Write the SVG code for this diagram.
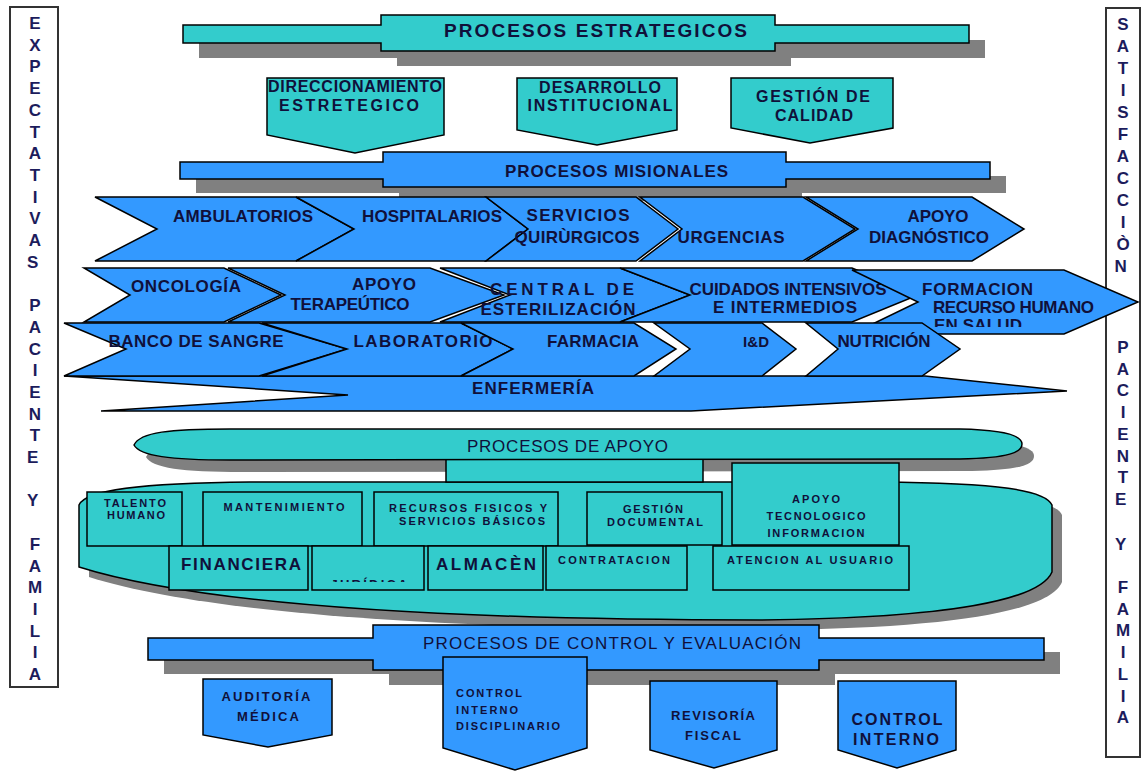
<svg xmlns="http://www.w3.org/2000/svg" width="1144" height="771" viewBox="0 0 1144 771">
<style>
.cy{fill:#33CCCC;stroke:#000;stroke-width:1.5;stroke-linejoin:miter}
.bl{fill:#3399FF;stroke:#000;stroke-width:1.5;stroke-linejoin:miter}
.sh{fill:#808080}
.frame{fill:#fff;stroke:#333;stroke-width:2}
.t{font-family:"Liberation Sans",Arial,sans-serif;font-weight:bold;fill:#10103a}
.n{font-weight:normal}
.m{text-anchor:middle}
.r{font-size:17px}
.s{font-size:11px}
.side{font-family:"Liberation Sans",Arial,sans-serif;font-weight:bold;font-size:17px;fill:#1c1c5c;text-anchor:middle}
</style>
<defs>
<clipPath id="clipSalud"><rect x="900" y="300" width="200" height="27"/></clipPath>
<clipPath id="clipJur"><rect x="312" y="546" width="112" height="36"/></clipPath>
</defs>
<rect width="1144" height="771" fill="#fff"/>

<!-- side frames -->
<g id="expectativas">
<rect class="frame" x="10" y="7" width="48" height="680"/>
<text class="side">
<tspan x="35" y="29">E</tspan><tspan x="35" y="50.7">X</tspan><tspan x="35" y="72.4">P</tspan><tspan x="35" y="94.1">E</tspan><tspan x="35" y="115.8">C</tspan><tspan x="35" y="137.5">T</tspan><tspan x="35" y="159.2">A</tspan><tspan x="35" y="180.9">T</tspan><tspan x="35" y="202.6">I</tspan><tspan x="35" y="224.3">V</tspan><tspan x="35" y="246">A</tspan><tspan x="35" y="267.7">S</tspan>
<tspan x="35" y="311.1">P</tspan><tspan x="35" y="332.8">A</tspan><tspan x="35" y="354.5">C</tspan><tspan x="35" y="376.2">I</tspan><tspan x="35" y="397.9">E</tspan><tspan x="35" y="419.6">N</tspan><tspan x="35" y="441.3">T</tspan><tspan x="35" y="463">E</tspan>
<tspan x="35" y="506.4">Y</tspan>
<tspan x="35" y="549.8">F</tspan><tspan x="35" y="571.5">A</tspan><tspan x="35" y="593.2">M</tspan><tspan x="35" y="614.9">I</tspan><tspan x="35" y="636.6">L</tspan><tspan x="35" y="658.3">I</tspan><tspan x="35" y="680">A</tspan>
</text>
</g>
<g id="satisfaccion">
<rect class="frame" x="1106" y="8" width="34" height="749"/>
<text class="side">
<tspan x="1123" y="30">S</tspan><tspan x="1123" y="52">A</tspan><tspan x="1123" y="74">T</tspan><tspan x="1123" y="96">I</tspan><tspan x="1123" y="118">S</tspan><tspan x="1123" y="140">F</tspan><tspan x="1123" y="162">A</tspan><tspan x="1123" y="184">C</tspan><tspan x="1123" y="206">C</tspan><tspan x="1123" y="228">I</tspan><tspan x="1123" y="250">Ò</tspan><tspan x="1123" y="272">N</tspan>
<tspan x="1123" y="353">P</tspan><tspan x="1123" y="374.7">A</tspan><tspan x="1123" y="396.4">C</tspan><tspan x="1123" y="418.1">I</tspan><tspan x="1123" y="439.8">E</tspan><tspan x="1123" y="461.5">N</tspan><tspan x="1123" y="483.2">T</tspan><tspan x="1123" y="504.9">E</tspan>
<tspan x="1123" y="550">Y</tspan>
<tspan x="1123" y="593">F</tspan><tspan x="1123" y="614.7">A</tspan><tspan x="1123" y="636.4">M</tspan><tspan x="1123" y="658.1">I</tspan><tspan x="1123" y="679.8">L</tspan><tspan x="1123" y="701.5">I</tspan><tspan x="1123" y="723.2">A</tspan>
</text>
</g>

<!-- strategic processes -->
<g id="estrategicos">
<path class="sh" d="M199 40 H397 V30 H791 V40 H985 V58 H791 V66 H397 V58 H199 Z"/>
<path class="cy" d="M183 25 H381 V15 H775 V25 H969 V43 H775 V51 H381 V43 H183 Z"/>
<text class="t" x="444" y="37" font-size="19" textLength="303">PROCESOS ESTRATEGICOS</text>
</g>
<g id="direccionamiento">
<path class="cy" d="M267 78 H444 V135 L355 153 L267 135 Z"/>
<text class="t m" x="355" y="92" font-size="16" textLength="174">DIRECCIONAMIENTO</text>
<text class="t m" x="349" y="111" font-size="16" textLength="140">ESTRETEGICO</text>
</g>
<g id="desarrollo">
<path class="cy" d="M517 78 H677 V130 L597 145 L517 130 Z"/>
<text class="t m" x="600" y="93" font-size="16" textLength="122">DESARROLLO</text>
<text class="t m" x="600" y="111" font-size="16" textLength="145">INSTITUCIONAL</text>
</g>
<g id="calidad">
<path class="cy" d="M731 78 H893 V128 L810 143 L731 128 Z"/>
<text class="t m" x="813" y="102" font-size="16" textLength="114">GESTIÓN DE</text>
<text class="t m" x="814" y="121" font-size="16" textLength="78">CALIDAD</text>
</g>

<!-- mission processes -->
<g id="misionales">
<path class="sh" d="M196 176 H399 V166 H802 V176 H1006 V193 H802 V201 H399 V193 H196 Z"/>
<path class="bl" d="M180 162 H383 V152 H786 V162 H990 V179 H786 V187 H383 V179 H180 Z"/>
<text class="t" x="505" y="177" font-size="17" textLength="223">PROCESOS MISIONALES</text>
</g>

<g id="enfermeria">
<polygon class="bl" points="64,376 925,376 1067,391 691,411 101,411 348,395"/>
<text class="t m r" x="533" y="394" textLength="122">ENFERMERÍA</text>
</g>

<g id="ambulatorios">
<polygon class="bl" points="95,197 296,197 354,229 296,261 95,261 157,229"/>
<text class="t m r" x="243" y="222" textLength="140">AMBULATORIOS</text>
</g>
<g id="hospitalarios">
<polygon class="bl" points="296,197 486,197 528,229 486,261 296,261 354,229"/>
<text class="t m r" x="432" y="222" textLength="140">HOSPITALARIOS</text>
</g>
<g id="quirurgicos">
<polygon class="bl" points="486,197 636,197 678,229 636,261 486,261 528,229"/>
<text class="t m r" x="578" y="221" textLength="103">SERVICIOS</text>
<text class="t m r" x="577" y="243" textLength="125">QUIRÙRGICOS</text>
</g>
<g id="urgencias">
<polygon class="bl" points="640,197 803,197 855,229 803,261 640,261 682,229"/>
<text class="t m r" x="731" y="243" textLength="107">URGENCIAS</text>
</g>
<g id="diagnostico">
<polygon class="bl" points="806,197 972,197 1024,229 972,261 806,261 858,229"/>
<text class="t m r" x="938" y="222" textLength="61">APOYO</text>
<text class="t m r" x="929" y="243" textLength="120">DIAGNÓSTICO</text>
</g>

<g id="oncologia">
<polygon class="bl" points="84,268 224,268 281,295 224,322 84,322 130,295"/>
<text class="t m r" x="186" y="292" textLength="110">ONCOLOGÍA</text>
</g>
<g id="terapeutico">
<polygon class="bl" points="228,268 430,268 504,295 430,322 228,322 285,295"/>
<text class="t m r" x="384" y="290" textLength="64">APOYO</text>
<text class="t m r" x="350" y="310" textLength="119">TERAPEÚTICO</text>
</g>
<g id="esterilizacion">
<polygon class="bl" points="440,268 620,268 690,295 620,322 440,322 510,295"/>
<text class="t m r" x="562" y="295" textLength="144">CENTRAL DE</text>
<text class="t m r" x="558" y="315" textLength="155">ESTERILIZACIÓN</text>
</g>
<g id="cuidados">
<polygon class="bl" points="620,268 852,268 918,295 852,322 620,322 690,295"/>
<text class="t m r" x="788" y="295" textLength="197">CUIDADOS INTENSIVOS</text>
<text class="t m r" x="785" y="313" textLength="144">E INTERMEDIOS</text>
</g>
<g id="formacion">
<polygon class="bl" points="852,270 1064,270 1138,302 1064,334 852,334 918,302"/>
<text class="t r" x="922" y="295" textLength="111">FORMACION</text>
<text class="t r" x="933" y="313" textLength="161">RECURSO HUMANO</text>
<text class="t r" x="934" y="331" textLength="88" clip-path="url(#clipSalud)">EN SALUD</text>
</g>

<g id="banco">
<polygon class="bl" points="64,323 259,323 347,349 259,376 64,376 126,349"/>
<text class="t m r" x="196" y="347" textLength="175">BANCO DE SANGRE</text>
</g>
<g id="laboratorio">
<polygon class="bl" points="262,323 461,323 513,349 461,376 262,376 347,349"/>
<text class="t m r" x="423" y="347" textLength="139">LABORATORIO</text>
</g>
<g id="farmacia">
<polygon class="bl" points="461,323 634,323 676,349 634,376 461,376 513,349"/>
<text class="t m r" x="593" y="347" textLength="92">FARMACIA</text>
</g>
<g id="id">
<polygon class="bl" points="654,323 762,323 796,349 762,376 654,376 690,349"/>
<text class="t m" x="756" y="347" font-size="15" textLength="26">I&amp;D</text>
</g>
<g id="nutricion">
<polygon class="bl" points="806,323 922,323 960,349 922,376 806,376 838,349"/>
<text class="t m r" x="884" y="347" textLength="93">NUTRICIÓN</text>
</g>

<!-- support processes -->
<g id="apoyo-cuerpo">
<path class="sh" d="M89 515 C95 500 150 493 260 492 L890 492 C1010 493 1055 500 1062 515 L1062 582 C1050 610 960 628 770 630 C460 630 210 615 89 577 Z"/>
<path class="cy" d="M79 505 C85 490 140 483 250 482 L880 482 C1000 483 1045 490 1052 505 L1052 572 C1040 600 950 618 760 620 C450 620 200 605 79 567 Z"/>
</g>
<g id="apoyo">
<path class="sh" d="M146 457 C152 444 182 441 242 441 L972 441 C1022 442 1034 449 1034 456 C1034 464 1022 470 972 471 L242 472 C182 472 152 468 146 457 Z"/>
</g>
<g id="connectors">
<rect class="cy" x="446" y="455" width="257" height="27"/>
</g>
<g id="procesos-apoyo">
<path class="cy" d="M134 445 C140 432 170 429 230 429 L960 429 C1010 430 1022 437 1022 444 C1022 452 1010 458 960 459 L230 460 C170 460 140 456 134 445 Z"/>
<text class="t n" x="467" y="452" font-size="17" textLength="201">PROCESOS DE APOYO</text>
</g>
<g id="talento">
<rect class="cy" x="87" y="492" width="95" height="54"/>
<text class="t m s" x="135" y="507" textLength="62">TALENTO</text>
<text class="t m s" x="136" y="519" textLength="58">HUMANO</text>
</g>
<g id="mantenimiento">
<rect class="cy" x="203" y="492" width="159" height="54"/>
<text class="t m s" x="284" y="511" textLength="121">MANTENIMIENTO</text>
</g>
<g id="recursos">
<rect class="cy" x="374" y="492" width="184" height="54"/>
<text class="t m s" x="468" y="512" textLength="158">RECURSOS FISICOS Y</text>
<text class="t m s" x="472" y="525" textLength="146">SERVICIOS BÁSICOS</text>
</g>
<g id="documental">
<rect class="cy" x="587" y="492" width="135" height="53"/>
<text class="t m s" x="653" y="513" textLength="60">GESTIÓN</text>
<text class="t m s" x="655" y="526" textLength="96">DOCUMENTAL</text>
</g>
<g id="tecnologico">
<rect class="cy" x="732" y="463" width="167" height="82"/>
<text class="t m s" x="816" y="503" textLength="48">APOYO</text>
<text class="t m s" x="816" y="520" textLength="99">TECNOLOGICO</text>
<text class="t m s" x="816" y="537" textLength="97">INFORMACION</text>
</g>
<g id="financiera">
<rect class="cy" x="169" y="546" width="139" height="44"/>
<text class="t m r" x="241" y="570" textLength="120">FINANCIERA</text>
</g>
<g id="juridica">
<rect class="cy" x="312" y="546" width="112" height="44"/>
<text class="t m" x="369" y="589" font-size="13" textLength="77" clip-path="url(#clipJur)">JURÍDICA</text>
</g>
<g id="almacen">
<rect class="cy" x="428" y="546" width="115" height="44"/>
<text class="t m r" x="486" y="570" textLength="100">ALMACÈN</text>
</g>
<g id="contratacion">
<rect class="cy" x="546" y="546" width="141" height="44"/>
<text class="t m s" x="614" y="564" textLength="112">CONTRATACION</text>
</g>
<g id="atencion">
<rect class="cy" x="713" y="546" width="196" height="44"/>
<text class="t m s" x="810" y="564" textLength="166">ATENCION AL USUARIO</text>
</g>

<!-- control and evaluation processes -->
<g id="control-evaluacion">
<path class="sh" d="M164 652 H389 V639 H835 V652 H1060 V674 H835 V685 H389 V674 H164 Z"/>
<path class="bl" d="M148 638 H373 V625 H819 V638 H1044 V660 H819 V670 H373 V660 H148 Z"/>
<text class="t n" x="423" y="649" font-size="17" textLength="378">PROCESOS DE CONTROL Y EVALUACIÓN</text>
</g>
<g id="auditoria">
<path class="bl" d="M203 679 H332 V735 L268 747 L203 735 Z"/>
<text class="t m" x="266" y="701" font-size="13" textLength="89">AUDITORÍA</text>
<text class="t m" x="268" y="721" font-size="13" textLength="62">MÉDICA</text>
</g>
<g id="disciplinario">
<path class="bl" d="M443 657 H587 V748 L515 770 L443 748 Z"/>
<text class="t s" x="456" y="697" textLength="66">CONTROL</text>
<text class="t s" x="456" y="714" textLength="62">INTERNO</text>
<text class="t s" x="456" y="730" textLength="104">DISCIPLINARIO</text>
</g>
<g id="revisoria">
<path class="bl" d="M650 681 H777 V750 L714 768 L650 750 Z"/>
<text class="t m" x="713" y="720" font-size="13" textLength="84">REVISORÍA</text>
<text class="t m" x="713" y="740" font-size="13" textLength="56">FISCAL</text>
</g>
<g id="control-interno">
<path class="bl" d="M838 681 H956 V750 L897 768 L838 750 Z"/>
<text class="t m" x="897" y="725" font-size="16" textLength="91">CONTROL</text>
<text class="t m" x="896" y="745" font-size="16" textLength="86">INTERNO</text>
</g>
</svg>
